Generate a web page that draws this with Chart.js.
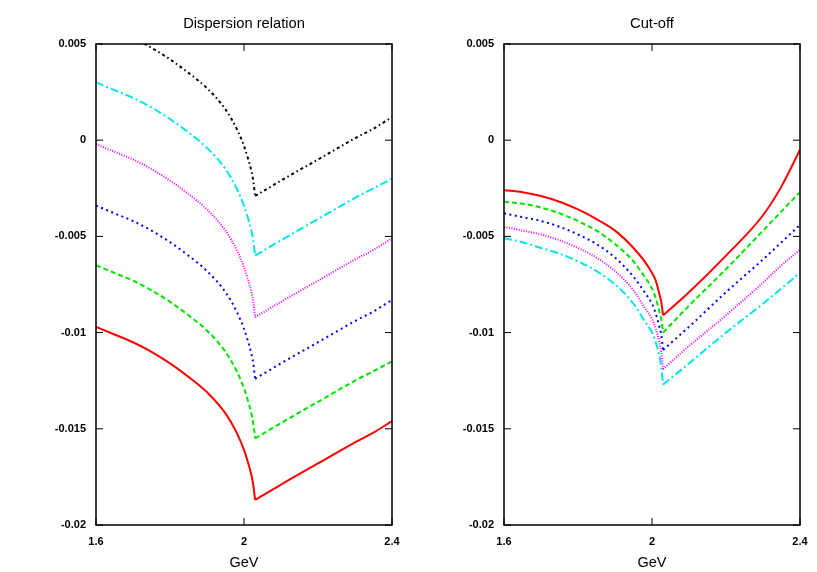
<!DOCTYPE html>
<html>
<head>
<meta charset="utf-8">
<script src="https://cdn.jsdelivr.net/npm/chart.js@4"></script>
<style>
  html, body { margin: 0; padding: 0; background: #fff; }
  #wrap { position: relative; width: 817px; height: 572px; }
  canvas { position: absolute; top: 0; }
  #dispChart { left: 0; }
  #cutChart { left: 408px; }
</style>
</head>
<body>
<div id="wrap">
  <canvas id="dispChart" width="408" height="572"></canvas>
  <canvas id="cutChart" width="409" height="572"></canvas>
</div>
<script>
// energy grid (GeV); the cusp sits at 2.03
const gev = [1.6, 1.65, 1.7, 1.75, 1.8, 1.85, 1.9, 1.95, 1.98, 2.0, 2.01, 2.02, 2.025, 2.03, 2.1, 2.2, 2.3, 2.35, 2.4];
const cuspIndex = 13;

// Dispersion relation panel
const dispRed     = [-0.0097, -0.0101, -0.0105, -0.0110, -0.0116, -0.0123, -0.0131, -0.0142, -0.0152, -0.0161, -0.0167, -0.0174, -0.0179, -0.0187, -0.0179, -0.0168, -0.0157, -0.0152, -0.0146];
const dispGreen   = [-0.0065, -0.0069, -0.0073, -0.0078, -0.0084, -0.0091, -0.0099, -0.0110, -0.0120, -0.0129, -0.0135, -0.0142, -0.0147, -0.0155, -0.0147, -0.0136, -0.0125, -0.0120, -0.0115];
const dispBlue    = [-0.0034, -0.0038, -0.0042, -0.0047, -0.0053, -0.0060, -0.0068, -0.0079, -0.0089, -0.0098, -0.0104, -0.0111, -0.0116, -0.0124, -0.0116, -0.0105, -0.0094, -0.0089, -0.0083];
const dispMagenta = [-0.0002, -0.0006, -0.0010, -0.0015, -0.0021, -0.0028, -0.0036, -0.0047, -0.0057, -0.0066, -0.0072, -0.0079, -0.0084, -0.0092, -0.0084, -0.0073, -0.0062, -0.0057, -0.0051];
const dispCyan    = [0.0030, 0.0026, 0.0022, 0.0017, 0.0011, 0.0004, -0.0004, -0.0015, -0.0025, -0.0034, -0.0040, -0.0047, -0.0052, -0.0060, -0.0052, -0.0041, -0.0030, -0.0025, -0.0020];
const dispBlack   = [0.0061, 0.0057, 0.0053, 0.0048, 0.0042, 0.0035, 0.0027, 0.0016, 0.0006, -0.0003, -0.0009, -0.0016, -0.0021, -0.0029, -0.0021, -0.0010, 0.0001, 0.0006, 0.0012];

// Cut-off panel
const cutRed     = [-0.0026, -0.0027, -0.0029, -0.0032, -0.0036, -0.0041, -0.0047, -0.0056, -0.0063, -0.0069, -0.0073, -0.0080, -0.0084, -0.0091, -0.0079, -0.0060, -0.0039, -0.0024, -0.0005];
const cutGreen   = [-0.0032, -0.0033, -0.0035, -0.0038, -0.0042, -0.0047, -0.0054, -0.0063, -0.0071, -0.0077, -0.0082, -0.0089, -0.0093, -0.0100, -0.0086, -0.0067, -0.0047, -0.0037, -0.0027];
const cutBlue    = [-0.0038, -0.0040, -0.0042, -0.0045, -0.0049, -0.0054, -0.0061, -0.0071, -0.0079, -0.0085, -0.0090, -0.0097, -0.0101, -0.0109, -0.0097, -0.0079, -0.0062, -0.0053, -0.0044];
const cutMagenta = [-0.0045, -0.0047, -0.0049, -0.0052, -0.0056, -0.0061, -0.0068, -0.0078, -0.0087, -0.0093, -0.0098, -0.0105, -0.0110, -0.0119, -0.0107, -0.0091, -0.0074, -0.0065, -0.0057];
const cutCyan    = [-0.0051, -0.0053, -0.0056, -0.0059, -0.0063, -0.0068, -0.0075, -0.0085, -0.0094, -0.0100, -0.0105, -0.0112, -0.0118, -0.0127, -0.0116, -0.0100, -0.0085, -0.0077, -0.0069];

// tick labels
const xTicks = [1.6, 2, 2.4];
const xTickLabels = ['1.6', '2', '2.4'];
const yTicks = [0.005, 0, -0.005, -0.01, -0.015, -0.02];
const yTickLabels = ['0.005', '0', '-0.005', '-0.01', '-0.015', '-0.02'];

// line styles, gnuplot-ish
const styles = {
  red:     { color: '#ff0000', dash: [] },
  green:   { color: '#00e600', dash: [5, 3] },
  blue:    { color: '#0000ff', dash: [2, 3.5] },
  magenta: { color: '#ff00ff', dash: [1, 1.5] },
  cyan:    { color: '#00e5ee', dash: [8, 3, 2, 3] },
  black:   { color: '#000000', dash: [3, 3, 1.5, 3] }
};

function branch(values, style, from, to) {
  return {
    data: gev.slice(from, to).map((x, i) => ({ x: x, y: values[from + i] })),
    borderColor: styles[style].color,
    borderDash: styles[style].dash,
    borderWidth: 2,
    pointRadius: 0,
    cubicInterpolationMode: 'monotone',
    fill: false
  };
}

// each curve = falling branch up to the cusp + rising branch after it
function series(values, style) {
  return [
    branch(values, style, 0, cuspIndex + 1),
    branch(values, style, cuspIndex, gev.length)
  ];
}

function nearestLabel(v, ticks, labels) {
  let best = 0;
  ticks.forEach((t, i) => { if (Math.abs(t - v) < Math.abs(ticks[best] - v)) best = i; });
  return labels[best];
}

// box round the plot + inward ticks on all four sides
const frame = {
  id: 'frame',
  afterDatasetsDraw(chart) {
    const { ctx, chartArea: a, scales: { x, y } } = chart;
    ctx.save();
    ctx.strokeStyle = '#000';
    ctx.lineWidth = 1;
    ctx.beginPath();
    xTicks.forEach(v => {
      const px = x.getPixelForValue(v);
      ctx.moveTo(px, a.bottom); ctx.lineTo(px, a.bottom - 7);
      ctx.moveTo(px, a.top); ctx.lineTo(px, a.top + 7);
    });
    yTicks.forEach(v => {
      const py = y.getPixelForValue(v);
      ctx.moveTo(a.left, py); ctx.lineTo(a.left + 7, py);
      ctx.moveTo(a.right, py); ctx.lineTo(a.right - 7, py);
    });
    ctx.stroke();
    ctx.lineWidth = 1.5;
    ctx.strokeRect(a.left, a.top, a.width, a.height);
    ctx.restore();
  }
};

function makeChart(id, title, datasets, rightPad) {
  return new Chart(document.getElementById(id).getContext('2d'), {
    type: 'line',
    data: { datasets: datasets },
    options: {
      responsive: false,
      animation: false,
      layout: { padding: 0 },
      plugins: {
        legend: { display: false },
        tooltip: { enabled: false },
        title: { display: false }
      },
      scales: {
        x: {
          type: 'linear',
          min: 1.6,
          max: 2.4,
          afterFit: s => { s.height = 47; s.paddingLeft = 0; s.paddingRight = rightPad; },
          afterBuildTicks: s => { s.ticks = xTicks.map(v => ({ value: v })); },
          grid: { display: false, drawTicks: false },
          border: { display: false },
          ticks: {
            color: '#000',
            padding: 10,
            maxRotation: 0,
            font: { family: 'Liberation Sans', size: 11, weight: 'bold' },
            callback: v => nearestLabel(v, xTicks, xTickLabels)
          },
          title: {
            display: true,
            text: 'GeV',
            color: '#000',
            font: { family: 'Liberation Sans', size: 14.5 },
            padding: { top: 0, bottom: 0 }
          }
        },
        // top axis only carries the panel title, centred over the plot
        top: {
          type: 'linear',
          position: 'top',
          min: 1.6,
          max: 2.4,
          afterFit: s => { s.height = 44; s.paddingLeft = 0; s.paddingRight = rightPad; },
          grid: { display: false, drawTicks: false },
          border: { display: false },
          ticks: { display: false },
          title: {
            display: true,
            text: title,
            color: '#000',
            font: { family: 'Liberation Sans', size: 14.7, lineHeight: 1.2 },
            padding: { top: 15, bottom: 0 }
          }
        },
        y: {
          type: 'linear',
          min: -0.02,
          max: 0.005,
          afterFit: s => { s.width = 96; },
          afterBuildTicks: s => { s.ticks = yTicks.map(v => ({ value: v })); },
          grid: { display: false, drawTicks: false },
          border: { display: false },
          ticks: {
            color: '#000',
            padding: 10,
            font: { family: 'Liberation Sans', size: 11, weight: 'bold' },
            callback: v => nearestLabel(v, yTicks, yTickLabels)
          }
        }
      }
    },
    plugins: [frame]
  });
}

const dispChart = makeChart('dispChart', 'Dispersion relation', [
  ...series(dispRed, 'red'),
  ...series(dispGreen, 'green'),
  ...series(dispBlue, 'blue'),
  ...series(dispMagenta, 'magenta'),
  ...series(dispCyan, 'cyan'),
  ...series(dispBlack, 'black')
], 16);

const cutChart = makeChart('cutChart', 'Cut-off', [
  ...series(cutRed, 'red'),
  ...series(cutGreen, 'green'),
  ...series(cutBlue, 'blue'),
  ...series(cutMagenta, 'magenta'),
  ...series(cutCyan, 'cyan')
], 17);
</script>
</body>
</html>
